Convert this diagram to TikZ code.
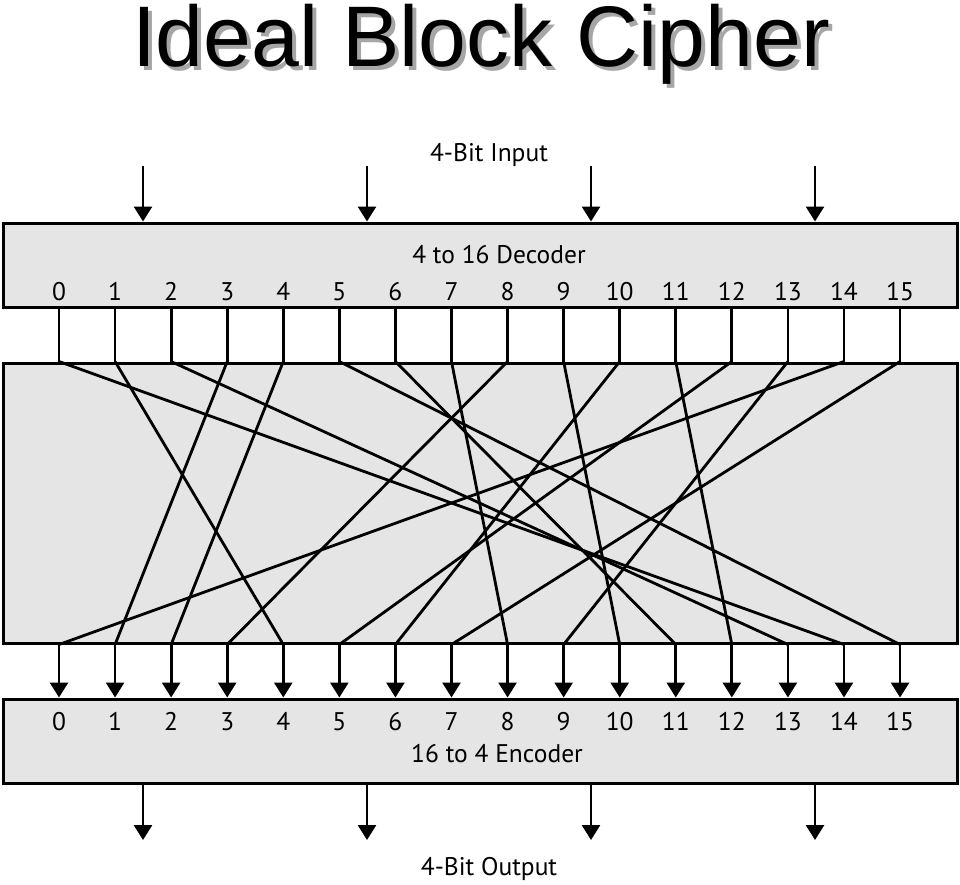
\documentclass[tikz,border=0pt]{standalone}
\usepackage{fontspec}
\setmainfont{PT Sans}
\newfontfamily\titlefont{Liberation Sans}
\usetikzlibrary{arrows.meta,positioning,calc}

\begin{document}
\begin{tikzpicture}[x=1pt, y=-1pt,
    box/.style={draw, line width=3pt, fill=black!10, minimum width=954pt, inner sep=0pt},
    lbl/.style={font=\fontsize{25.5}{28}\selectfont, inner sep=0pt, anchor=base},
    wire/.style={line width=2.8pt},
    arr/.style={-{Triangle[width=18pt,length=15pt]}, line width=2.8pt},
    ttl/.style={font=\titlefont\fontsize{86}{90}\selectfont, inner sep=0pt, anchor=base}
]
\useasboundingbox (0,0) rectangle (960,884);

% title with drop shadow
\node[ttl] (title) at (481,66) {\makebox[0pt][l]{\hspace{4pt}\raisebox{-4pt}{\color{black!35}Ideal Block Cipher}}Ideal Block Cipher};

% the three boxes
\node[box, minimum height=84pt] (dec) at (480,265) {};
\node[box, minimum height=280pt] (perm) at (480,503) {};
\node[box, minimum height=84pt] (enc) at (480,741) {};

\node[lbl] (inlbl) at (489,161) {4-Bit Input};
\node[lbl] (declbl) at (499,263) {4 to 16 Decoder};
\node[lbl] (enclbl) at (497,762) {16 to 4 Encoder};
\node[lbl] (outlbl) at (489,875) {4-Bit Output};

% input and output bits
\foreach \k in {0,...,3} {
    \coordinate (in\k) at (143+224*\k,166);
    \coordinate (out\k) at (143+224*\k,840);
    \draw[arr] (in\k) -- (in\k |- dec.north);
    \draw[arr] (out\k |- enc.south) -- (out\k);
}

% decoder outputs and encoder inputs
\foreach \i in {0,...,15} {
    \node[lbl] (d\i) at (59+56.07*\i,300) {\i};
    \node[lbl] (e\i) at (59+56.07*\i,730) {\i};
    \draw[wire] (d\i |- dec.south) -- (d\i |- perm.north);
    \draw[arr] (e\i |- perm.south) -- (e\i |- enc.north);
}

% the substitution
\foreach \i/\j in {0/14,1/4,2/13,3/1,4/2,5/15,6/11,7/8,8/3,9/10,10/6,11/12,12/5,13/9,14/0,15/7}
    \draw[wire] (d\i |- perm.north) -- (e\j |- perm.south);
\end{tikzpicture}
\end{document}
